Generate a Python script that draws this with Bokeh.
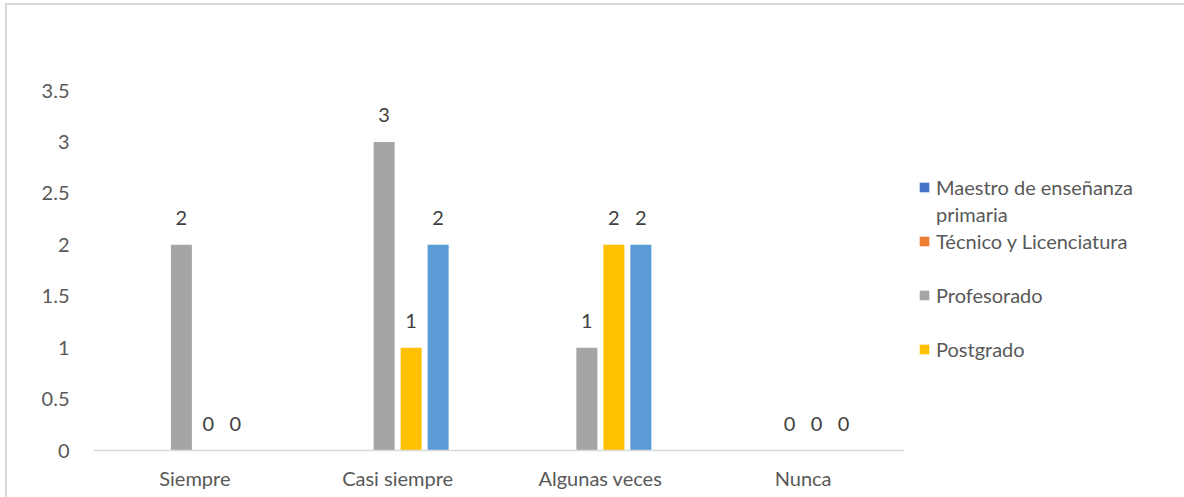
import math
from bokeh.plotting import figure
from bokeh.models import ColumnDataSource, FactorRange, Legend, LegendItem
from bokeh.transform import dodge
from bokeh.embed import file_html
from bokeh.resources import INLINE

categories = ["Siempre", "Casi siempre", "Algunas veces", "Nunca"]
nan = float("nan")
maestro = [nan, nan, nan, nan]
tecnico = [nan, nan, nan, nan]
profesorado = [2, 3, 1, 0]
postgrado = [0, 1, 2, 0]
serie5 = [0, 2, 2, 0]
serie6 = [nan, nan, nan, nan]

series_names = ["Maestro de enseñanza primaria", "Técnico y Licenciatura",
                "Profesorado", "Postgrado", "Serie 5", "Serie 6"]
series_values = [maestro, tecnico, profesorado, postgrado, serie5, serie6]
series_colors = ["#4472C4", "#ED7D31", "#A5A5A5", "#FFC000", "#5B9BD5", "#70AD47"]

FONT = "Lato"
FS = "20px"
cat_px = 811 / 4.0
slot = 27 / cat_px
bar_w = 21 / cat_px

p = figure(x_range=FactorRange(*categories, range_padding=0), y_range=(0, 3.5),
           frame_width=811, frame_height=360, output_backend="svg", toolbar_location=None,
           min_border_left=86, min_border_right=0, min_border_top=85, min_border_bottom=47)
p.styles = {"margin-left": "5px", "margin-top": "3px", "min-width": "1177px",
            "border-left": "2px solid #d9d9d9", "border-top": "2px solid #d9d9d9"}
p.outline_line_color = None
p.xgrid.grid_line_color = None
p.ygrid.grid_line_color = None
p.yaxis.axis_line_color = None
p.yaxis.major_tick_line_color = None
p.yaxis.minor_tick_line_color = None
p.yaxis.ticker = [0, 0.5, 1, 1.5, 2, 2.5, 3, 3.5]
p.yaxis.major_label_overrides = {0: "0", 1: "1", 2: "2", 3: "3"}
p.yaxis.major_label_standoff = 18
p.xaxis.axis_line_color = "#d9d9d9"
p.xaxis.axis_line_width = 1.5
p.xaxis.major_tick_line_color = None
p.xaxis.minor_tick_line_color = None
p.xaxis.major_label_standoff = 9
for ax in (p.xaxis, p.yaxis):
    ax.major_label_text_font = FONT
    ax.major_label_text_font_size = FS
    ax.major_label_text_color = "#595959"

renderers = []
for i, (name, vals, col) in enumerate(zip(series_names, series_values, series_colors)):
    off = (i - 2.5) * slot
    src = ColumnDataSource(dict(cat=categories, v=vals,
                                lab=["" if (isinstance(v, float) and math.isnan(v)) else str(v) for v in vals]))
    r = p.vbar(x=dodge("cat", off, range=p.x_range), top="v", width=bar_w, source=src,
               fill_color=col, line_color=None)
    renderers.append(r)
    p.text(x=dodge("cat", off, range=p.x_range), y="v", text="lab", source=src,
           text_align="center", text_baseline="middle", y_offset=-27,
           text_font={"value": FONT}, text_font_size=FS, text_color="#404040")

# invisible renderer used for spacer / wrapped-line legend rows
blank_src = ColumnDataSource(dict(cat=categories, v=[nan] * 4))
blank = p.vbar(x="cat", top="v", width=0.1, source=blank_src, fill_alpha=0, line_alpha=0)

legend = Legend(items=[LegendItem(label="Maestro de enseñanza", renderers=[renderers[0]]),
                       LegendItem(label="primaria", renderers=[blank]),
                       LegendItem(label=series_names[1], renderers=[renderers[1]]),
                       LegendItem(label=" ", renderers=[blank]),
                       LegendItem(label=series_names[2], renderers=[renderers[2]]),
                       LegendItem(label=" ", renderers=[blank]),
                       LegendItem(label=series_names[3], renderers=[renderers[3]])],
                location=(14, 88), orientation="vertical",
                glyph_width=12, glyph_height=12, label_standoff=6, spacing=0,
                label_height=27, padding=0, margin=0,
                border_line_color=None, background_fill_alpha=0,
                label_text_font=FONT, label_text_font_size=FS, label_text_color="#595959")
p.add_layout(legend, "right")

open("out.html", "w").write(file_html(p, INLINE))
